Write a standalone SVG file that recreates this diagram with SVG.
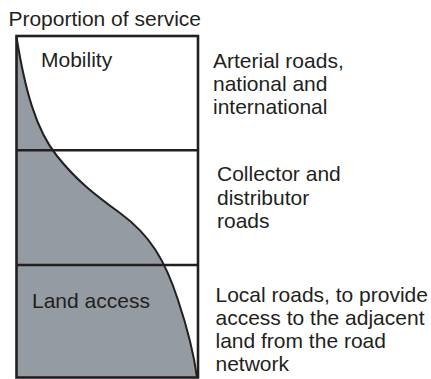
<svg xmlns="http://www.w3.org/2000/svg" width="431" height="379" viewBox="0 0 431 379">
<style>
text{font-family:"Liberation Sans",Arial,sans-serif;font-size:21px;fill:#231f20}
.frame{fill:none;stroke:#231f20;stroke-width:2.6}
.curve{fill:none;stroke:#231f20;stroke-width:2}
.area{fill:#959ba3;stroke:none}
</style>
<rect width="431" height="379" fill="#ffffff"/>
<text x="8.4" y="26">Proportion of service</text>
<g id="chart">
<path class="area" d="M16.5,37 C25,90 36,130 57,156 C76,180 95,195 120,213 C150,235 165,260 178,300 C188,330 194,355 197,377.5 L16.5,377.5 Z"/>
<path class="curve" d="M16.5,37 C25,90 36,130 57,156 C76,180 95,195 120,213 C150,235 165,260 178,300 C188,330 194,355 197,377.5"/>
<rect class="frame" x="16.5" y="36" width="181.5" height="341.5"/>
<line class="frame" x1="16.5" y1="150.3" x2="198" y2="150.3"/>
<line class="frame" x1="16.5" y1="265" x2="198" y2="265"/>
</g>
<g id="mobility"><text x="41" y="67">Mobility</text></g>
<g id="land-access"><text x="32" y="308">Land access</text></g>
<g id="arterial">
<text x="213" y="67.5">Arterial roads,</text>
<text x="213" y="91">national and</text>
<text x="213" y="114">international</text>
</g>
<g id="collector">
<text x="217" y="180.5">Collector and</text>
<text x="217" y="204.5">distributor</text>
<text x="217" y="228">roads</text>
</g>
<g id="local">
<text x="215.5" y="302">Local roads, to provide</text>
<text x="215.5" y="325">access to the adjacent</text>
<text x="215.5" y="348">land from the road</text>
<text x="215.5" y="371">network</text>
</g>
</svg>
